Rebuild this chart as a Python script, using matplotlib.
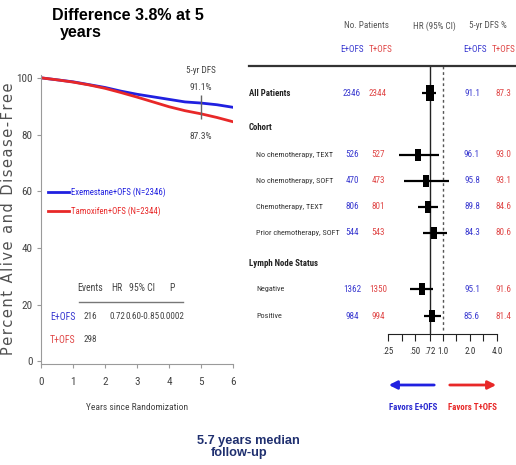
import numpy as np
import matplotlib
matplotlib.use("Agg")
import matplotlib.pyplot as plt
from matplotlib import font_manager
from matplotlib.lines import Line2D
from matplotlib.patches import FancyArrowPatch
from matplotlib.transforms import blended_transform_factory

W, H = 516, 465

# KM curves
years = [0, 0.5, 1, 1.5, 2, 2.5, 3, 3.5, 4, 4.5, 5, 5.5, 6]
dfs_e = [100, 99.3, 98.6, 97.6, 96.6, 95.3, 94.2, 93.3, 92.4, 91.5, 91.1, 90.5, 89.6]
dfs_t = [100, 99.3, 98.5, 97.5, 96.3, 94.8, 93.2, 91.5, 89.8, 88.4, 87.3, 86.0, 84.5]
label_e = "Exemestane+OFS (N=2346)"
label_t = "Tamoxifen+OFS (N=2344)"
dfs5_e, dfs5_t = 91.1, 87.3
events = [216, 298]
hr_all, ci_all, p_all = "0.72", "0.60-0.85", "0.0002"

# forest plot
rows = ["All Patients", "Cohort", "No chemotherapy, TEXT", "No chemotherapy, SOFT",
        "Chemotherapy, TEXT", "Prior chemotherapy, SOFT", "Lymph Node Status",
        "Negative", "Positive"]
is_header = [True, True, False, False, False, False, True, False, False]
n_e = [2346, None, 526, 470, 806, 544, None, 1362, 984]
n_t = [2344, None, 527, 473, 801, 543, None, 1350, 994]
hr = [0.72, None, 0.54, 0.66, 0.69, 0.81, None, 0.59, 0.77]
hr_lo = [0.60, None, 0.33, 0.38, 0.53, 0.61, None, 0.44, 0.62]
hr_hi = [0.85, None, 0.92, 1.17, 0.90, 1.12, None, 0.78, 0.97]
d5_e = ["91.1", None, "96.1", "95.8", "89.8", "84.3", None, "95.1", "85.6"]
d5_t = ["87.3", None, "93.0", "93.1", "84.6", "80.6", None, "91.6", "81.4"]
hr_ticks = [0.25, 0.354, 0.5, 0.72, 1.0, 1.414, 2.0, 2.83, 4.0]
hr_ticklabels = [".25", "", ".50", ".72", "1.0", "", "2.0", "", "4.0"]

BLUE = "#2020e0"
RED = "#e82828"
TBLUE = "#3a3ad0"
TRED = "#e04848"
GRAY = "#444444"

# look for a condensed face (the original uses Arial Narrow)
ttf = font_manager.fontManager.ttflist
NARROW, STRETCH, K = None, "normal", 1.0
for name in ["Liberation Sans Narrow", "Roboto Condensed", "Open Sans Condensed",
             "Noto Sans Condensed", "DejaVu Sans Condensed"]:
    if any(f.name == name for f in ttf):
        NARROW = name
        break
if NARROW is None:
    for f in ttf:
        if "condensed" in str(f.stretch) and f.name in ("Noto Sans", "DejaVu Sans", "Open Sans", "Roboto"):
            NARROW, STRETCH = f.name, "condensed"
            break
if NARROW is None:
    NARROW, K = "Liberation Sans", 0.84

plt.rcParams["font.family"] = [NARROW, "DejaVu Sans"]
plt.rcParams["font.stretch"] = STRETCH


def fs(v):
    return v * K


def fx(px):
    return px / W


def fy(py):
    return 1 - py / H


fig = plt.figure(figsize=(W / 100, H / 100), dpi=100)

# ---------------- left: KM plot ----------------
ax = fig.add_axes([fx(41), fy(364), 192 / W, 289 / H])
ax.plot(years, dfs_e, color=BLUE, lw=2, label=label_e)
ax.plot(years, dfs_t, color=RED, lw=2, label=label_t)
ax.set_xlim(0, 6)
ax.set_ylim(-1, 101)
ax.set_xticks(range(7))
ax.set_yticks([0, 20, 40, 60, 80, 100])
for s in ["top", "right"]:
    ax.spines[s].set_visible(False)
for s in ["left", "bottom"]:
    ax.spines[s].set_color("#9a9a9a")
ax.tick_params(direction="out", length=3, color="#9a9a9a", labelcolor=GRAY,
               labelsize=fs(8), pad=3)
ax.tick_params(axis="x", pad=6)
ax.set_xlabel("Years since Randomization", fontsize=fs(6.8), color=GRAY, labelpad=12)

# 5-yr DFS marker
ax.vlines(5, dfs5_t - 1.8, dfs5_e + 2.8, color="#666666", lw=1)
ax.text(5, 102.7, "5-yr DFS", ha="center", va="center", fontsize=fs(6.6), color=GRAY, clip_on=False)
ax.text(5, dfs5_e + 5.6, f"{dfs5_e}%", ha="center", va="center", fontsize=fs(6.8), color=GRAY)
ax.text(5, dfs5_t - 8.1, f"{dfs5_t}%", ha="center", va="center", fontsize=fs(6.8), color=GRAY)

ax.legend(loc="upper left", bbox_to_anchor=(0.035, 0.612), frameon=False, fontsize=fs(6.3),
          handlelength=2.4, handletextpad=0.25, labelspacing=1.15, borderpad=0,
          borderaxespad=0, labelcolor="linecolor")

# small results table
ty = [25.9, 15.7, 7.5]
tx = [1.53, 2.38, 3.16, 4.08]
for x, t in zip(tx, ["Events", "HR", "95% CI", "P"]):
    ax.text(x, ty[0], t, ha="center", va="center", fontsize=fs(7), color=GRAY)
ax.plot([1.19, 4.44], [21.0, 21.0], color="#777777", lw=1)
ax.text(0.67, ty[1], "E+OFS", ha="center", va="center", fontsize=fs(7), color=TBLUE)
ax.text(0.67, ty[2], "T+OFS", ha="center", va="center", fontsize=fs(7), color=TRED)
for x, t in zip(tx, [str(events[0]), hr_all, ci_all, p_all]):
    ax.text(x, ty[1], t, ha="center", va="center", fontsize=fs(6.6), color=GRAY)
ax.text(tx[0], ty[2], str(events[1]), ha="center", va="center", fontsize=fs(6.6), color=GRAY)

ylab = "\u200a".join("Percent Alive and Disease-Free")
fig.text(fx(9), fy(219), ylab, rotation=90, ha="center", va="center", fontsize=10.5,
         color="#505050", family="DejaVu Sans", stretch="normal")

fig.text(fx(52), fy(16), "Difference 3.8% at 5", ha="left", va="center", fontsize=11.5,
         fontweight="bold", family="Liberation Sans", stretch="normal", color="black")
fig.text(fx(60), fy(33), "years", ha="left", va="center", fontsize=11.5,
         fontweight="bold", family="Liberation Sans", stretch="normal", color="black")

# ---------------- right: forest plot ----------------
row_y = [0, 1.31, 2.38, 3.38, 4.38, 5.38, 6.54, 7.54, 8.58]
fa = fig.add_axes([fx(388), fy(334), 109 / W, 268 / H])
fa.set_xscale("log")
fa.set_xlim(0.25, 4.0)
fa.set_ylim(9.27, -1.04)
for s in ["top", "right", "left"]:
    fa.spines[s].set_visible(False)
fa.spines["bottom"].set_color("#222222")
fa.set_yticks([])
fa.set_xticks(hr_ticks)
fa.set_xticklabels(hr_ticklabels)
fa.xaxis.set_minor_locator(matplotlib.ticker.NullLocator())
fa.tick_params(axis="x", direction="out", length=5, color="#222222", labelsize=fs(6.5),
               labelcolor="#333333", pad=4)

fa.axvline(0.72, color="#222222", lw=1)
fa.axvline(1.0, ymin=0.015, color="#555555", lw=1, ls=(0, (2, 2)))

box = [(-0.5, -1), (0.5, -1), (0.5, 1), (-0.5, 1), (-0.5, -1)]
for i, y in enumerate(row_y):
    if hr[i] is None:
        continue
    fa.plot([hr_lo[i], hr_hi[i]], [y, y], color="black", lw=1.6, solid_capstyle="butt")
    fa.plot(hr[i], y, marker=box, ms=11 if i == 0 else 8, color="black", mew=0)

trans = blended_transform_factory(fig.transFigure, fa.transData)
for i, y in enumerate(row_y):
    if is_header[i]:
        fa.text(fx(249), y, rows[i], transform=trans, ha="left", va="center",
                fontsize=fs(6.4), fontweight="bold", color="#222222", clip_on=False)
    else:
        fa.text(fx(256), y, rows[i], transform=trans, ha="left", va="center",
                fontsize=fs(5.9), color="#333333", clip_on=False)
    if n_e[i] is not None:
        for px, t, c in [(352, str(n_e[i]), TBLUE), (378, str(n_t[i]), TRED),
                         (472, d5_e[i], TBLUE), (503, d5_t[i], TRED)]:
            fa.text(fx(px), y, t, transform=trans, ha="center", va="center",
                    fontsize=fs(6.6), color=c, clip_on=False)

# column headers
for px, t in [(367, "No. Patients"), (434, "HR (95% CI)"), (488, "5-yr DFS %")]:
    fig.text(fx(px), fy(26), t, ha="center", va="center", fontsize=fs(6.6), color="#555555")
for px, t, c in [(352, "E+OFS", TBLUE), (381, "T+OFS", TRED),
                 (475, "E+OFS", TBLUE), (504, "T+OFS", TRED)]:
    fig.text(fx(px), fy(49), t, ha="center", va="center", fontsize=fs(6.6), color=c)
fig.add_artist(Line2D([fx(249), 1], [fy(66), fy(66)], transform=fig.transFigure,
                      color="#333333", lw=1.6))

# favours arrows
fig.add_artist(FancyArrowPatch((fx(437), fy(385)), (fx(386), fy(385)),
                               transform=fig.transFigure, arrowstyle="-|>",
                               mutation_scale=12, lw=2, color=BLUE))
fig.add_artist(FancyArrowPatch((fx(447), fy(385)), (fx(499), fy(385)),
                               transform=fig.transFigure, arrowstyle="-|>",
                               mutation_scale=12, lw=2, color=RED))
fig.text(fx(413), fy(407), "Favors E+OFS", ha="center", va="center", fontsize=fs(6.4),
         fontweight="bold", color="#2a2ad0")
fig.text(fx(472), fy(407), "Favors T+OFS", ha="center", va="center", fontsize=fs(6.4),
         fontweight="bold", color=RED)

fig.text(fx(197), fy(441), "5.7 years median", ha="left", va="center", fontsize=9.2,
         fontweight="bold", family="Liberation Sans", stretch="normal", color="#1f2f6f")
fig.text(fx(211), fy(453), "follow-up", ha="left", va="center", fontsize=9.2,
         fontweight="bold", family="Liberation Sans", stretch="normal", color="#1f2f6f")

fig.savefig("out.png", dpi=100)
